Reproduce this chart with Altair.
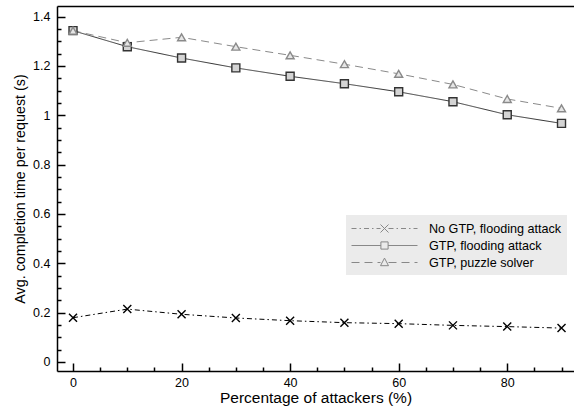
import altair as alt
import pandas as pd

# ---------------- data ----------------
attackers = [0, 10, 20, 30, 40, 50, 60, 70, 80, 90]
no_gtp_flooding = [0.179, 0.214, 0.193, 0.178, 0.167, 0.159, 0.155, 0.148, 0.143, 0.137]
gtp_flooding = [1.343, 1.278, 1.232, 1.192, 1.158, 1.128, 1.095, 1.055, 1.002, 0.967]
gtp_puzzle = [1.343, 1.294, 1.316, 1.278, 1.243, 1.207, 1.168, 1.125, 1.066, 1.028]
series_names = ["No GTP, flooding attack", "GTP, flooding attack", "GTP, puzzle solver"]

y_major = [0, 0.2, 0.4, 0.6, 0.8, 1.0, 1.2, 1.4]
y_minor = [0.05, 0.1, 0.15, 0.25, 0.3, 0.35, 0.45, 0.5, 0.55, 0.65, 0.7, 0.75,
           0.85, 0.9, 0.95, 1.05, 1.1, 1.15, 1.25, 1.3, 1.35]
x_major = [0, 20, 40, 60, 80]
x_minor = [5, 10, 15, 25, 30, 35, 45, 50, 55, 65, 70, 75, 85, 90]

rows = []
for name, vals in zip(series_names, [no_gtp_flooding, gtp_flooding, gtp_puzzle]):
    for a, v in zip(attackers, vals):
        rows.append({"attackers": a, "time": v, "series": name})
df = pd.DataFrame(rows)

FONT = "Liberation Sans"
line_colors = ["#000000", "#333333", "#8a8a8a"]
dashes = [[5, 3, 1.5, 3], [1, 0], [8, 5]]
cross_path = "M-1,-1L1,1M-1,1L1,-1"


# ---- legend glyphs: line sample with the marker in the middle (unit = 8px) ----
def dashed_segments(pattern_px, start, end, unit=8.0):
    segs = []
    pos = start
    i = 0
    pat = [p / unit for p in pattern_px]
    while pos < end:
        length = pat[i % len(pat)]
        if i % 2 == 0:
            e = min(pos + length, end)
            segs.append(f"M{pos:.3f},0L{e:.3f},0")
        pos += length
        i += 1
    return "".join(segs)


half = 4.125
m = 0.5
legend_paths = [
    dashed_segments([5, 3, 1.5, 3], -half, -m) + dashed_segments([5, 3, 1.5, 3], m, half)
    + "M-0.5,-0.5L0.5,0.5M-0.5,0.5L0.5,-0.5",
    f"M{-half},0L-0.45,0M0.45,0L{half},0" + "M-0.45,-0.45L0.45,-0.45L0.45,0.45L-0.45,0.45Z",
    dashed_segments([8, 5], -half, -m) + dashed_segments([8, 5], m, half)
    + "M0,-0.55L0.5,0.4L-0.5,0.4Z",
]

x_scale = alt.Scale(domain=[-2.95, 92.3], nice=False, zero=False)
y_scale = alt.Scale(domain=[-0.037, 1.443], nice=False, zero=False)

common_axis = dict(grid=False, labelFont=FONT, titleFont=FONT)

x_main = alt.Axis(orient="bottom", values=x_major, format="d", labelFontSize=12.5,
                  labelColor="black", labelPadding=5, ticks=False, tickSize=0,
                  domain=True, domainColor="black", domainWidth=1.5,
                  title="Percentage of attackers (%)", titleFontSize=15.5,
                  titleFontWeight="normal", titleColor="black", titlePadding=2, **common_axis)
y_main = alt.Axis(orient="left", values=y_major, format="~g", labelFontSize=12.5,
                  labelColor="black", labelPadding=7, ticks=False, tickSize=0,
                  domain=True, domainColor="black", domainWidth=1.5,
                  title="Avg. completion time per request (s)", titleFontSize=14.3,
                  titleFontWeight="normal", titleColor="black", titlePadding=5, **common_axis)


def tick_axis(orient, values, size):
    return alt.Axis(orient=orient, values=values, labels=False, domain=False, ticks=True,
                    tickSize=size, tickWidth=1.5, tickColor="black", offset=-size,
                    title=None, grid=False)


x_top = alt.Axis(orient="top", labels=False, ticks=False, domain=True, domainColor="black",
                 domainWidth=1.5, title=None, grid=False)

series_sort = series_names

lines = alt.Chart(df).mark_line(strokeWidth=1).encode(
    x=alt.X("attackers:Q", scale=x_scale, axis=x_main),
    y=alt.Y("time:Q", scale=y_scale, axis=y_main),
    stroke=alt.Stroke("series:N", sort=series_sort,
                      scale=alt.Scale(domain=series_names, range=line_colors), legend=None),
    strokeDash=alt.StrokeDash("series:N", sort=series_sort,
                              scale=alt.Scale(domain=series_names, range=dashes), legend=None),
)

points = alt.Chart(df).mark_point(size=64, strokeWidth=1.4, opacity=1, filled=False).encode(
    x=alt.X("attackers:Q", scale=x_scale, axis=tick_axis("bottom", x_major, 8)),
    y=alt.Y("time:Q", scale=y_scale, axis=tick_axis("left", y_major, 8)),
    shape=alt.Shape("series:N", sort=series_sort,
                    scale=alt.Scale(domain=series_names,
                                    range=[cross_path, "square", "triangle-up"]), legend=None),
    stroke=alt.Stroke("series:N", sort=series_sort,
                      scale=alt.Scale(domain=series_names, range=line_colors), legend=None),
    fill=alt.Fill("series:N", sort=series_sort,
                  scale=alt.Scale(domain=series_names, range=["transparent", "#d4d4d4", "#e6e6e6"]),
                  legend=None),
)

leg = alt.Legend(orient="none", legendX=289, legendY=209, title=None, fillColor="#ebebeb",
                 padding=5, labelFont=FONT, labelFontSize=12.6, labelColor="black",
                 symbolSize=256, symbolStrokeWidth=1, symbolOpacity=1,
                 symbolFillColor="transparent", rowPadding=1, labelOffset=36,
                 symbolOffset=25)

legend_layer = alt.Chart(df).mark_point(size=256, opacity=0, filled=False).encode(
    x=alt.X("attackers:Q", scale=x_scale, axis=tick_axis("bottom", x_minor, 4)),
    y=alt.Y("time:Q", scale=y_scale, axis=tick_axis("left", y_minor, 4)),
    shape=alt.Shape("series:N", sort=series_sort,
                    scale=alt.Scale(domain=series_names, range=legend_paths), legend=leg),
    color=alt.Color("series:N", sort=series_sort,
                    scale=alt.Scale(domain=series_names, range=line_colors), legend=leg),
)

border = alt.Chart(df).mark_point(opacity=0).encode(
    x=alt.X("attackers:Q", scale=x_scale, axis=x_top),
    y=alt.Y("time:Q", scale=y_scale, axis=None),
)

chart = alt.layer(lines, points, legend_layer, border).resolve_axis(
    x="independent", y="independent"
).resolve_scale(shape="independent").properties(
    width=517, height=365,
    autosize=alt.AutoSizeParams(type="none"),
    padding={"left": 57, "top": 6, "right": 0, "bottom": 39},
    background="white",
).configure_view(stroke=None)

chart.save("out.html", embed_options={"renderer": "svg", "actions": False})
